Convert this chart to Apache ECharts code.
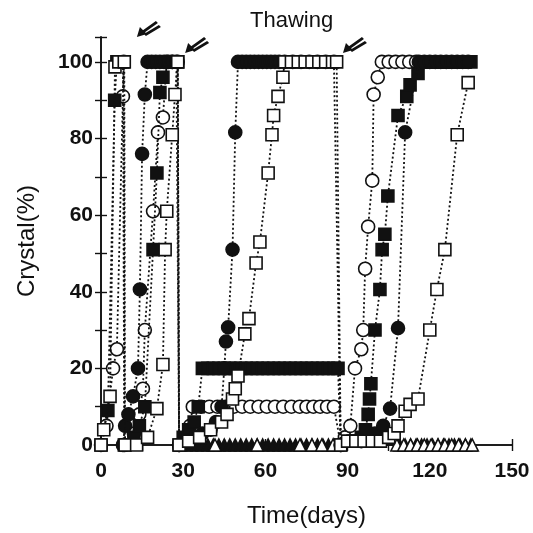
<!DOCTYPE html>
<html>
<head>
<meta charset="utf-8">
<title>Crystal vs time</title>
<script src="https://cdn.jsdelivr.net/npm/echarts@6/dist/echarts.min.js"></script>
<style>
  html, body { margin: 0; padding: 0; background: #fff; }
  #chart { width: 533px; height: 533px; }
</style>
</head>
<body>
<div id="chart"></div>
<script>
// values: [day, crystal %]
const openCircle = [
  [0, 0], [2, 5], [4.4, 20], [5.8, 25], [8, 91], [8.3, 100],
  [8.6, 0], [12, 3], [14, 8], [15.3, 14.7], [16, 30], [19, 61], [20.8, 81.6], [22.6, 85.5], [24, 100], [26, 100], [28, 100],
  [28.5, 0], [31, 2], [32.5, 5], [33.5, 10], [36.5, 10], [39.5, 10], [42.5, 10], [45.5, 10], [48.5, 10], [51.5, 10], [54.5, 10],
  [57.5, 10], [60.5, 10], [63.5, 10], [66.5, 10], [69.5, 10], [72.5, 10], [75, 10], [77.5, 10], [80, 10], [82.5, 10], [85, 10],
  [87.5, 0], [89, 2], [91, 5], [92.7, 20], [95, 25], [95.7, 30], [96.4, 46], [97.5, 57], [99, 69], [99.5, 91.5], [101, 96],
  [102.5, 100], [105, 100], [107.5, 100], [110, 100], [112.5, 100], [115, 100]
];

const filledSquare = [
  [0, 0], [2.5, 9], [5, 90], [5.8, 100], [7, 100], [8, 100],
  [8.5, 0], [12, 2], [14, 5], [16, 10], [19, 51], [20.4, 71], [21.5, 92], [22.6, 96], [24, 100], [25.5, 100], [27, 100], [28, 100],
  [28.5, 0], [30, 2], [32, 4], [34, 6], [35.5, 10], [37, 20], [39, 20], [41, 20], [43, 20], [45, 20], [47, 20], [49, 20], [51, 20],
  [53, 20], [55, 20], [57, 20], [59, 20], [61, 20], [63, 20], [65, 20], [67, 20], [69, 20], [71, 20], [73, 20], [75, 20], [77, 20],
  [79, 20], [81, 20], [83, 20], [85, 20], [86.5, 20],
  [87.5, 0], [92, 1], [95, 2], [96.5, 4], [97.5, 8], [98, 12], [98.5, 16], [100, 30], [101.8, 40.6], [102.6, 51], [103.6, 55],
  [104.7, 65], [108.4, 86], [111.6, 91], [112.8, 94], [115.7, 97], [117, 100], [119, 100], [121, 100], [123, 100], [125, 100],
  [127, 100], [129, 100], [131, 100], [133, 100], [135, 100]
];

const filledCircle = [
  [8, 0], [8.8, 5], [10, 8], [11.7, 12.7], [13.5, 20], [14.2, 40.6], [15, 76], [16, 91.5], [17, 100], [18.5, 100], [20, 100],
  [21.5, 100], [23, 100], [24.5, 100], [26, 100], [27.5, 100],
  [28.5, 0], [31, 1], [34, 2], [37, 3], [40, 4], [42, 6], [44, 10], [45, 20], [45.6, 27], [46.4, 30.7], [48, 51], [49, 81.6],
  [50, 100], [51.5, 100], [53, 100], [54.5, 100], [56, 100], [57.5, 100], [59, 100], [60.5, 100], [62, 100], [63.5, 100], [65, 100],
  [67, 100], [70, 100], [73, 100], [76, 100], [79, 100], [82, 100], [85, 100],
  [87.5, 0], [95, 1], [100, 3], [103, 5], [105.5, 9.5], [108.4, 30.5], [111, 81.6], [116, 100], [118, 100], [120, 100], [122, 100],
  [124, 100], [126, 100], [128, 100], [130, 100], [132, 100], [134, 100]
];

const openSquare = [
  [0, 0], [1, 4], [3.3, 12.7], [5.1, 98.7], [6.5, 100], [8.5, 100],
  [8.8, 0], [13, 0], [17, 2], [20.4, 9.5], [22.6, 21], [23.4, 51], [24, 61], [26, 81], [27, 91.5], [28, 100],
  [28.5, 0], [32, 1], [36, 2], [40, 4], [44, 6], [46, 8], [48, 12], [49, 14.7], [50, 18], [52.5, 29], [54, 33], [56.6, 47.5],
  [58, 53], [61, 71], [62.4, 81], [63, 86], [64.6, 91], [66.4, 96], [67, 100], [69.5, 100], [72, 100], [74.5, 100], [77, 100],
  [79.5, 100], [82, 100], [84.5, 100], [86, 100],
  [87.5, 0], [90, 1], [93, 1], [96, 1], [99, 1], [102, 1], [105, 2], [107, 3], [108.4, 5], [111, 8.8], [112.8, 10.6], [115.7, 12],
  [120, 30], [122.6, 40.6], [125.5, 51], [130, 81], [134, 94.6]
];

const filledTriangle = [
  [29, 0], [31, 0], [33, 0], [35, 0], [37, 0], [39, 0], [41, 0], [43, 0], [45, 0], [47, 0], [49, 0], [51, 0], [53, 0], [55, 0],
  [57, 0], [59, 0], [61, 0], [63, 0], [65, 0], [67, 0], [69, 0], [71, 0], [73, 0], [75, 0], [77, 0], [79, 0], [81, 0], [83, 0],
  [85, 0], [109, 0], [111, 0], [113, 0], [115, 0], [117, 0], [119, 0], [121, 0], [123, 0], [125, 0], [127, 0], [129, 0], [131, 0],
  [133, 0], [135, 0]
];

const openTriangle = [
  [41.6, 0], [57, 0], [72.6, 0], [77, 0], [80.6, 0], [84.7, 0],
  [108, 0], [110.5, 0], [113, 0], [115.5, 0], [118, 0], [120.5, 0], [123, 0], [125.5, 0], [128, 0], [130.5, 0], [133, 0], [135.5, 0]
];

// thawing arrows (tip position)
const thawDays = [13.1, 30.7, 88.3];
const thawLevels = [106.5, 102.3, 102.3];

const xTicks = [0, 30, 60, 90, 120, 150];
const yTicks = [0, 20, 40, 60, 80, 100];

const INK = '#111';
const FONT = 'Liberation Sans, Arial, sans-serif';
const arrowPath = 'path://M0,16 L3,6 L10,13 Z M5,10 L19,0 L21,2 L7,12 Z M7,13 L22,4 L24,6 L9,15 Z';

function makeSeries(name, data, symbol, filled, size, z) {
  return {
    name: name,
    type: 'line',
    data: data,
    symbol: symbol,
    symbolSize: size,
    showAllSymbol: true,
    clip: false,
    z: z,
    lineStyle: { color: INK, width: 1.8, type: [2, 2.5] },
    itemStyle: {
      color: filled ? INK : '#fff',
      borderColor: INK,
      borderWidth: 1.6
    },
    emphasis: { disabled: true },
    animation: false
  };
}

const chart = echarts.init(document.getElementById('chart'));

const axisCommon = {
  axisLine: { show: true, lineStyle: { color: INK, width: 1.6 } },
  axisTick: { show: true, inside: true, length: 6, lineStyle: { color: INK, width: 1.4 } },
  splitLine: { show: false }
};

const triSeries = makeSeries('filled triangle', filledTriangle, 'triangle', true, 12, 2);
triSeries.markPoint = {
  symbol: arrowPath,
  symbolSize: [24, 16],
  symbolKeepAspect: false,
  itemStyle: { color: INK },
  label: { show: false },
  data: thawDays.map((d, i) => ({ coord: [d, thawLevels[i]], symbolOffset: [12, -8] }))
};

const option = {
  backgroundColor: '#fff',
  animation: false,
  title: {
    text: 'Thawing',
    left: 245,
    top: 5,
    textStyle: { fontFamily: FONT, fontSize: 22, fontWeight: 'normal', color: INK }
  },
  grid: { left: 101, right: 21, top: 37, bottom: 85 },
  xAxis: [
    Object.assign({
      type: 'value', position: 'bottom', min: 0, max: 150, interval: 15,
      name: 'Time(days)', nameLocation: 'middle', nameGap: 59,
      nameTextStyle: { fontFamily: FONT, fontSize: 24, color: INK },
      axisLabel: {
        margin: 16, fontFamily: FONT, fontSize: 21, fontWeight: 'bold', color: INK,
        formatter: v => (xTicks.indexOf(v) >= 0 ? String(v) : '')
      }
    }, axisCommon),
    Object.assign({
      type: 'value', position: 'top', min: 0, max: 150, interval: 15,
      axisLabel: { show: false }
    }, axisCommon)
  ],
  yAxis: [
    Object.assign({
      type: 'value', position: 'left', min: 0, max: 106.5, interval: 10,
      name: 'Crystal(%)', nameLocation: 'middle', nameGap: 62,
      nameTextStyle: { fontFamily: FONT, fontSize: 24, color: INK },
      axisLabel: {
        margin: 8, fontFamily: FONT, fontSize: 21, fontWeight: 'bold', color: INK,
        formatter: v => (yTicks.indexOf(v) >= 0 ? String(v) : '')
      }
    }, axisCommon),
    Object.assign({
      type: 'value', position: 'right', min: 0, max: 106.5, interval: 10,
      axisLabel: { show: false }
    }, axisCommon)
  ],
  series: [
    triSeries,
    makeSeries('open triangle', openTriangle, 'triangle', false, 12, 3),
    makeSeries('open circle', openCircle, 'circle', false, 13, 4),
    makeSeries('filled square', filledSquare, 'rect', true, 12, 5),
    makeSeries('filled circle', filledCircle, 'circle', true, 13, 6),
    makeSeries('open square', openSquare, 'rect', false, 12, 7)
  ]
};

chart.setOption(option);
</script>
</body>
</html>
